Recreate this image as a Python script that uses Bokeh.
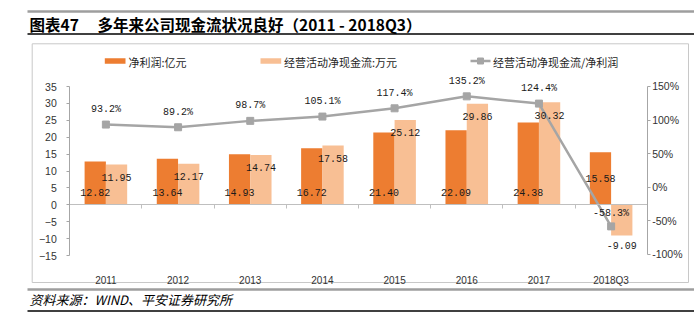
from bokeh.plotting import figure
from bokeh.models import (Range1d, LinearAxis, FixedTicker, ColumnDataSource,
                          Label, PrintfTickFormatter, CustomJSTickFormatter)
from bokeh.transform import dodge
from bokeh.embed import file_html
from bokeh.resources import INLINE

# ---------------- data ----------------
categories = ["2011", "2012", "2013", "2014", "2015", "2016", "2017", "2018Q3"]
net_profit = [12.82, 13.64, 14.93, 16.72, 21.40, 22.09, 24.38, 15.58]          # 净利润:亿元
op_cash_flow = [11.95, 12.17, 14.74, 17.58, 25.12, 29.86, 30.32, -9.09]        # 经营活动净现金流
cash_ratio = [93.2, 89.2, 98.7, 105.1, 117.4, 135.2, 124.4, -58.3]             # 经营活动净现金流/净利润 (%)
left_ticks = [-15, -10, -5, 0, 5, 10, 15, 20, 25, 30, 35]
right_ticks = [-100, -50, 0, 50, 100, 150]

title_tag = "图表47"
title_text = "多年来公司现金流状况良好（2011 - 2018Q3）"
source_text = "资料来源：WIND、平安证券研究所"
legend_labels = ["净利润:亿元", "经营活动净现金流:万元", "经营活动净现金流/净利润"]

# ---------------- layout (pixel geometry -> scales) ----------------
W, H = 694, 321
X0, CW = 69.3, 72.175      # px of category start, px per category
Y0, LS = 204.3, 3.38       # px of zero (left axis), px per unit
R0, RS = 186.7, 0.672      # px of 0% (right axis), px per percent


def xd(px):
    return (px - X0) / CW


def yd(py):
    return (Y0 - py) / LS


ORANGE = "#ED7D31"
PEACH = "#F8BF94"
GRAY = "#A5A5A5"
AXIS = "#A6A6A6"
NUMFONT = "Liberation Mono"
AXFONT = "Liberation Sans"
CJK = "Noto Sans CJK SC"

p = figure(width=W, height=H, output_backend="svg", toolbar_location=None,
           x_range=Range1d(xd(0), xd(W)), y_range=Range1d(yd(H), yd(0)),
           x_axis_type=None, y_axis_type=None, min_border=0,
           outline_line_color=None, title=None)
p.extra_y_ranges = {"pct": Range1d(-(H - R0) / RS, R0 / RS)}

n = len(categories)
centers = [i + 0.5 for i in range(n)]
src = ColumnDataSource(dict(
    x=centers,
    cat=categories,
    np=net_profit,
    cf=op_cash_flow,
    ratio=cash_ratio,
    np_txt=["%.2f" % v for v in net_profit],
    cf_txt=["%.2f" % v for v in op_cash_flow],
    r_txt=["%.1f%%" % v for v in cash_ratio],
    np_off=[-26 if c < 0 else -12 for c in op_cash_flow],
    cf_off=[13 if c > 0 else 10 for c in op_cash_flow],
    r_off=[-15 if r > 0 else -13 for r in cash_ratio],
))

BW = 0.295
# ---------------- frame decorations ----------------
p.quad(left=[xd(31.7)], right=[xd(688)], top=[yd(43.3)], bottom=[yd(282)],
       fill_color=None, line_color="#C8C8C8", line_width=1)
p.segment(x0=[xd(27)], x1=[xd(W)], y0=[yd(11)], y1=[yd(11)], line_color="#9E9E9E", line_width=2.5)
p.segment(x0=[xd(27)], x1=[xd(W)], y0=[yd(33.5)], y1=[yd(33.5)], line_color="#000000", line_width=1.3)
p.segment(x0=[xd(27)], x1=[xd(W)], y0=[yd(289)], y1=[yd(289)], line_color="#9E9E9E", line_width=2.5)
p.segment(x0=[xd(27)], x1=[xd(W)], y0=[yd(310.5)], y1=[yd(310.5)], line_color="#000000", line_width=1.3)

p.add_layout(Label(x=xd(29), y=yd(23), text=title_tag, text_baseline="middle",
                   text_font=CJK, text_font_style="bold", text_font_size="15.5px", text_color="#000000"))
p.add_layout(Label(x=xd(97), y=yd(23), text=title_text, text_baseline="middle",
                   text_font=CJK, text_font_style="bold", text_font_size="15.5px", text_color="#000000"))
p.add_layout(Label(x=xd(29), y=yd(299), text=source_text, text_baseline="middle",
                   text_font=CJK, text_font_style="italic", text_font_size="13px", text_color="#000000"))

# ---------------- bars & line ----------------
r_np = p.vbar(x=dodge("x", -BW / 2), top="np", bottom=0, width=BW, source=src,
              fill_color=ORANGE, line_color=None)
r_cf = p.vbar(x=dodge("x", BW / 2), top="cf", bottom=0, width=BW, source=src,
              fill_color=PEACH, line_color=None)
r_line = p.line(x="x", y="ratio", source=src, y_range_name="pct", line_color=GRAY, line_width=2.5)
r_pts = p.scatter(x="x", y="ratio", source=src, y_range_name="pct", marker="square",
                  size=7, fill_color=GRAY, line_color=GRAY)

# ---------------- axes ----------------
ax_left = LinearAxis(fixed_location=0, bounds=(-15, 35), ticker=FixedTicker(ticks=left_ticks),
                     axis_line_color=AXIS, major_tick_line_color=AXIS, major_tick_out=3, major_tick_in=0,
                     minor_tick_line_color=None, major_label_standoff=10,
                     major_label_text_font=AXFONT, major_label_text_font_size="10.5px",
                     major_label_text_color="#333333")
p.add_layout(ax_left, "left")

ax_right = LinearAxis(y_range_name="pct", fixed_location=n, bounds=(-100, 150),
                      ticker=FixedTicker(ticks=right_ticks), formatter=PrintfTickFormatter(format="%d%%"),
                      axis_line_color=AXIS, major_tick_line_color=AXIS, major_tick_out=3, major_tick_in=0,
                      minor_tick_line_color=None, major_label_standoff=2,
                      major_label_text_font=AXFONT, major_label_text_font_size="10.5px",
                      major_label_text_color="#333333")
p.add_layout(ax_right, "right")

ax_zero = LinearAxis(fixed_location=0, bounds=(0, n), ticker=FixedTicker(ticks=list(range(n + 1))),
                     formatter=CustomJSTickFormatter(code="return ''"),
                     axis_line_color="#BFBFBF", major_tick_line_color="#BFBFBF", major_tick_out=4,
                     major_tick_in=0, minor_tick_line_color=None, major_label_standoff=0)
p.add_layout(ax_zero, "below")

ax_cat = LinearAxis(fixed_location=yd(266), ticker=FixedTicker(ticks=centers),
                    major_label_overrides={c: lab for c, lab in zip(centers, categories)},
                    axis_line_color=None, major_tick_line_color=None, minor_tick_line_color=None,
                    major_label_standoff=2, major_label_text_font=AXFONT,
                    major_label_text_font_size="10px", major_label_text_color="#333333")
p.add_layout(ax_cat, "below")

# ---------------- data labels ----------------
p.text(x=dodge("x", -BW / 2), y=0, text="np_txt", source=src, y_offset="np_off",
       text_align="center", text_baseline="middle", text_font={"value": NUMFONT},
       text_font_size="10px", text_color="#1a1a1a")
p.text(x=dodge("x", BW / 2), y="cf", text="cf_txt", source=src, y_offset="cf_off",
       text_align="center", text_baseline="middle", text_font={"value": NUMFONT},
       text_font_size="10px", text_color="#1a1a1a")
p.text(x="x", y="ratio", text="r_txt", source=src, y_range_name="pct", y_offset="r_off",
       text_align="center", text_baseline="middle", text_font={"value": NUMFONT},
       text_font_size="10px", text_color="#1a1a1a")

# ---------------- legend (drawn by hand) ----------------
LY = 60.5
p.quad(left=[xd(104.3)], right=[xd(125)], top=[yd(LY - 2.8)], bottom=[yd(LY + 2.8)],
       fill_color=ORANGE, line_color=None)
p.quad(left=[xd(260)], right=[xd(280.7)], top=[yd(LY - 2.8)], bottom=[yd(LY + 2.8)],
       fill_color=PEACH, line_color=None)
p.segment(x0=[xd(470)], x1=[xd(490)], y0=[yd(LY)], y1=[yd(LY)], line_color=GRAY, line_width=2.5)
p.scatter(x=[xd(480)], y=[yd(LY)], marker="square", size=6, fill_color=GRAY, line_color=GRAY)
p.text(x=[xd(128), xd(283.5), xd(492.5)], y=[yd(LY + 0.5)] * 3, text=legend_labels,
       text_baseline="middle", text_font={"value": CJK}, text_font_size="11px", text_color="#262626")

open("out.html", "w").write(file_html(p, INLINE))
